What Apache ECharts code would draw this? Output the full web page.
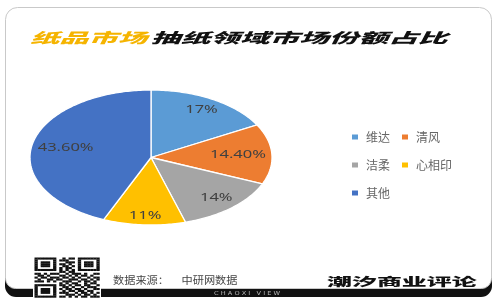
<!DOCTYPE html>
<html>
<head>
<meta charset="utf-8">
<script src="https://cdn.jsdelivr.net/npm/echarts@6/dist/echarts.min.js"></script>
<style>
html,body{margin:0;padding:0;background:#fff;}
#chart{width:500px;height:300px;}
</style>
</head>
<body>
<div id="chart"></div>
<script>
// ---- data ----
const categories = ['维达', '清风', '洁柔', '心相印', '其他'];
const values = [17, 14.4, 14, 11, 43.6];
const valueLabels = ['17%', '14.40%', '14%', '11%', '43.60%'];
const colors = ['#5B9BD5', '#ED7D31', '#A5A5A5', '#FFC000', '#4472C4'];
const titleHighlight = '纸品市场';
const titleRest = '抽纸领域市场份额占比';
const sourceLabel = '数据来源：';
const sourceName = '中研网数据';
const brandName = '潮汐商业评论';
const brandSub = 'C H A O X I   V I E W';

// decorative QR-like pattern
const qrPattern = [
  '111111100101101111111',
  '100000101110001000001',
  '101110100011101011101',
  '101110101101001011101',
  '101110100110101011101',
  '100000101011001000001',
  '111111101010101111111',
  '000000001101100000000',
  '110101110010111010011',
  '011010001101010110100',
  '101101110110101001011',
  '010011011001110110101',
  '111010100111001011010',
  '000000001010110010110',
  '111111101101011011001',
  '100000100110100101110',
  '101110101011011010011',
  '101110100101101101100',
  '101110101110010110101',
  '100000100011101011010',
  '111111101101010110111'
];

const total = values.reduce((a, b) => a + b, 0);
const LABEL_FONT = 11, LABEL_SCALE = 1.5, LABEL_H = 10;
const measureCtx = document.createElement('canvas').getContext('2d');
measureCtx.font = LABEL_FONT + 'px "Noto Sans"';

function makeRenderItem(idx) {
  return function (params, api) {
    let start = 0;
    for (let k = 0; k < idx; k++) start += values[k];
    start /= total;
    const end = start + values[idx] / total;
    const steps = Math.max(8, Math.ceil((end - start) * 360));
    const c0 = api.coord([0, 0]);
    const pts = [c0];
    for (let s = 0; s <= steps; s++) {
      const t = 2 * Math.PI * (start + (end - start) * s / steps);
      pts.push(api.coord([Math.sin(t), Math.cos(t)]));
    }
    // "best fit" label: push label outward as far as its box fits inside the ellipse
    const mid = 2 * Math.PI * (start + end) / 2;
    const ex = api.coord([1, 0]), ey = api.coord([0, 1]);
    const rx = ex[0] - c0[0], ry = c0[1] - ey[1];
    const w = measureCtx.measureText(valueLabels[idx]).width * LABEL_SCALE;
    let f = 0.86, lp;
    for (; f > 0.3; f -= 0.01) {
      lp = api.coord([f * Math.sin(mid), f * Math.cos(mid)]);
      let ok = true;
      [[-1, -1], [1, -1], [-1, 1], [1, 1]].forEach(([sx, sy]) => {
        const dx = (lp[0] + sx * w / 2 - c0[0]) / rx;
        const dy = (lp[1] + sy * LABEL_H / 2 - c0[1]) / ry;
        if (Math.sqrt(dx * dx + dy * dy) > 0.965) ok = false;
      });
      if (ok) break;
    }
    return {
      type: 'group',
      children: [
        {
          type: 'polygon',
          shape: { points: pts },
          style: { fill: api.visual('color'), stroke: '#ffffff', lineWidth: 1.3 }
        },
        {
          type: 'text',
          x: lp[0], y: lp[1], scaleX: LABEL_SCALE,
          style: {
            text: valueLabels[idx], x: 0, y: 0,
            align: 'center', verticalAlign: 'middle',
            fill: '#404040', fontSize: LABEL_FONT, fontFamily: 'Noto Sans'
          }
        }
      ]
    };
  };
}

const graphics = [];
// card background + bottom band
graphics.push({ type: 'rect', z: -10, shape: { x: 5, y: 200, width: 487, height: 97, r: 11 }, style: { fill: '#111111' } });
graphics.push({ type: 'rect', z: -9, shape: { x: 5.5, y: 7.5, width: 486, height: 281, r: [12, 12, 10, 10] }, style: { fill: '#ffffff', stroke: '#c9c9c9', lineWidth: 1 } });
// title
graphics.push({ type: 'text', x: 30, y: 37.5, scaleX: 2.09, style: { text: titleHighlight, fill: '#F5B400', fontSize: 14, fontWeight: 900, fontStyle: 'italic', fontFamily: 'Noto Sans CJK SC', align: 'left', verticalAlign: 'middle' } });
graphics.push({ type: 'text', x: 150.7, y: 37.5, scaleX: 2.12, style: { text: titleRest, fill: '#111111', fontSize: 14, fontWeight: 900, fontStyle: 'italic', fontFamily: 'Noto Sans CJK SC', align: 'left', verticalAlign: 'middle' } });
// footer texts
graphics.push({ type: 'text', x: 113, y: 280, scaleX: 1.12, style: { text: sourceLabel, fill: '#444444', fontSize: 10, fontFamily: 'Noto Sans CJK SC', align: 'left', verticalAlign: 'middle' } });
graphics.push({ type: 'text', x: 181.5, y: 280, scaleX: 1.12, style: { text: sourceName, fill: '#444444', fontSize: 10, fontFamily: 'Noto Sans CJK SC', align: 'left', verticalAlign: 'middle' } });
graphics.push({ type: 'text', x: 327, y: 281.5, scaleX: 2.17, style: { text: brandName, fill: '#111111', fontSize: 11.5, fontWeight: 900, fontFamily: 'Noto Sans CJK SC', align: 'left', verticalAlign: 'middle' } });
graphics.push({ type: 'text', x: 247, y: 294, scaleX: 1.2, style: { text: brandSub, fill: '#bbbbbb', fontSize: 5.5, fontFamily: 'DejaVu Sans', align: 'center', verticalAlign: 'middle' } });
// QR decoration
graphics.push({ type: 'rect', z: 5, shape: { x: 33, y: 256, width: 68, height: 43 }, style: { fill: '#ffffff' } });
const qx = 34.5, qy = 257.5, qw = 65 / 21, qh = 40 / 21;
qrPattern.forEach((row, r) => {
  for (let c = 0; c < row.length; c++) {
    if (row[c] === '1') {
      graphics.push({ type: 'rect', z: 6, shape: { x: qx + c * qw, y: qy + r * qh, width: qw + 0.2, height: qh + 0.2 }, style: { fill: '#111111' } });
    }
  }
});

const chart = echarts.init(document.getElementById('chart'), null, { renderer: 'canvas' });
chart.setOption({
  animation: false,
  backgroundColor: '#ffffff',
  grid: { left: 30, right: 228, top: 90, bottom: 75, containLabel: false },
  xAxis: { type: 'value', min: -1, max: 1, show: false },
  yAxis: { type: 'value', min: -1, max: 1, show: false },
  legend: {
    data: categories,
    left: 347, top: 124, width: 115,
    orient: 'horizontal',
    icon: 'rect', itemWidth: 6, itemHeight: 5, itemGap: 12,
    textStyle: { fontSize: 12, color: '#666666', lineHeight: 16, padding: [0, 0, 0, 3], fontFamily: 'Noto Sans CJK SC' }
  },
  graphic: graphics,
  series: categories.map((name, i) => ({
    type: 'custom',
    name: name,
    coordinateSystem: 'cartesian2d',
    itemStyle: { color: colors[i] },
    data: [[0, 0]],
    renderItem: makeRenderItem(i),
    silent: true
  }))
});
</script>
</body>
</html>
